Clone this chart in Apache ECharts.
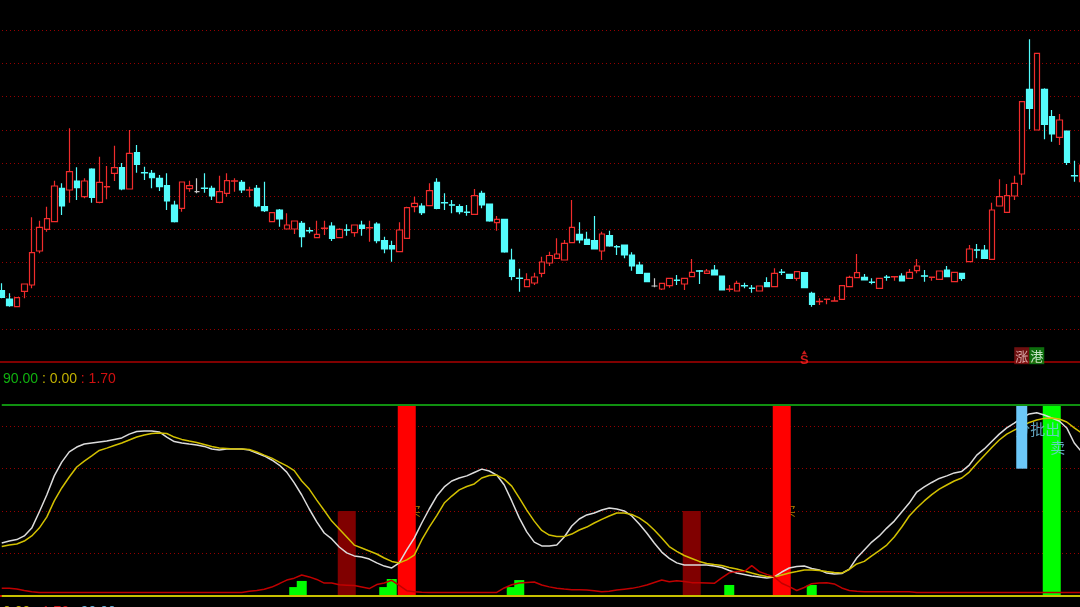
<!DOCTYPE html>
<html><head><meta charset="utf-8">
<script src="https://cdn.jsdelivr.net/npm/echarts@6/dist/echarts.min.js"></script>
<style>html,body{margin:0;padding:0;background:#000;}#c{width:1080px;height:607px;}</style>
</head><body><div id="c"></div>
<script>
// ---------- price candles (one entry per trading day) ----------
const opens = [7.15,6.32,5.55,7.09,7.72,11.12,13.29,14.05,17.39,17.22, 18.12,16.55,19.32,15.99,17.53,18.89,19.45,17.32,20.95,18.97, 18.89,18.39,17.65,15.72,15.39,17.35,17.05,17.41,17.39,15.99, 16.89,18.10,17.99,17.20,17.39,15.55,14.05,15.22,13.32,13.32, 13.89,13.17,12.45,13.37,13.62,12.45,13.24,12.95,13.72,13.43, 13.82,12.15,11.65,11.05,12.39,15.55,15.62,15.65,17.99,15.97, 15.74,15.55,15.01,14.79,16.89,15.82,13.95,14.29,10.22,8.41, 7.55,7.92,8.89,9.92,10.39,10.22,11.95,12.79,12.29,12.15, 11.12,12.65,11.57,11.72,10.72,9.72,8.89,7.62,7.32,7.65, 8.21,7.82,8.55,9.14,8.89,9.22,8.62,7.27,7.12,7.67, 7.41,7.12,7.95,7.55,9.01,8.79,8.39,8.97,6.89,6.05, 6.27,6.10,6.29,7.55,8.45,8.49,8.01,7.39,8.51,8.53, 8.62,8.39,9.15,8.64,8.47,8.29,9.22,8.05,8.89,10.05, 11.24,11.22,10.29,15.62,14.99,16.62,18.82,27.29,23.22,27.29, 24.55,22.49,23.12,18.67,18.05];
const closes = [6.49,5.65,6.45,7.82,10.95,13.49,14.35,17.62,15.62,19.05, 17.45,18.12,16.49,17.99,17.57,19.45,17.32,20.89,19.79,18.93, 18.45,17.55,16.12,14.05,18.02,17.65,17.05,17.37,16.62,17.05, 18.15,18.14,17.22,17.24,15.62,15.15,14.95,14.32,13.72,14.12, 12.55,13.13,12.79,13.41,12.39,13.29,13.20,13.72,13.39,13.47, 12.15,11.32,11.32,13.22,15.45,15.89,14.95,17.15,15.39,15.93, 15.70,15.05,14.97,16.65,15.72,14.12,14.29,11.02,8.57,8.37, 8.25,8.52,10.02,10.67,10.82,11.89,13.49,12.22,11.79,11.32, 12.82,11.62,11.53,10.72,9.62,8.89,8.05,7.62,7.89,8.39, 8.17,8.39,8.99,9.10,9.12,8.72,7.22,7.31,7.89,7.63, 7.37,7.62,7.55,8.89,8.97,8.39,9.05,7.45,5.79,6.09, 6.31,6.14,7.65,8.49,8.95,8.22,7.97,8.39,8.47,8.57, 8.12,8.99,9.62,8.60,8.51,9.12,8.55,8.99,8.39,11.32, 11.20,10.39,15.22,16.55,16.65,17.89,26.05,25.39,30.89,23.79, 22.82,24.22,19.99,18.63,19.72];
const lows = [6.39,5.55,5.50,6.39,7.39,10.89,13.05,14.00,14.72,15.95, 16.22,16.39,15.95,15.90,16.29,18.12,17.20,17.30,18.95,18.22, 17.39,17.12,15.22,13.97,15.05,17.05,16.89,16.95,16.22,15.90, 16.55,17.05,16.92,16.49,15.50,15.02,14.00,13.55,13.30,12.82, 11.49,12.89,12.45,12.72,12.12,12.39,12.65,12.55,12.65,12.05, 11.89,10.89,10.05,11.00,12.35,14.99,14.72,15.60,15.30,15.22, 14.89,14.79,14.65,14.75,15.39,14.05,13.15,10.95,8.19,7.05, 7.50,7.72,8.49,9.62,10.35,10.20,11.90,11.89,11.75,11.30, 10.22,11.55,10.72,10.39,9.15,8.85,8.00,7.49,7.22,7.45, 7.72,7.22,8.50,7.82,8.85,8.70,7.20,7.05,7.10,7.39, 6.95,7.10,7.50,7.50,8.72,8.35,8.15,7.40,5.55,5.72, 5.79,6.07,6.25,7.50,8.40,8.20,7.79,7.35,8.15,8.15, 8.10,8.35,8.89,8.05,8.15,8.25,8.50,8.00,8.15,10.00, 10.39,10.35,10.25,15.60,14.95,16.22,17.72,23.29,23.20,22.29, 22.05,21.72,19.72,18.05,18.00];
const highs = [7.89,6.89,6.50,7.85,14.49,14.15,15.55,18.15,17.89,23.39, 19.49,18.39,19.39,20.55,19.62,21.65,19.92,23.22,21.72,19.55, 19.22,18.72,18.89,16.15,18.05,18.15,18.39,18.89,17.65,18.65, 18.89,18.39,18.22,17.55,17.72,18.05,15.00,15.32,14.89,14.15, 14.12,13.49,14.15,14.15,13.99,13.39,13.79,13.75,14.15,14.15, 13.99,12.55,12.15,13.99,15.55,16.55,15.89,17.89,18.39,16.89, 16.22,15.79,15.72,17.32,17.15,15.85,14.62,14.30,11.35,9.35, 8.89,8.95,10.55,11.05,12.39,12.22,16.22,13.99,13.05,14.62, 13.05,13.15,11.72,11.75,10.99,10.05,8.90,8.39,7.90,8.40, 8.72,8.40,10.32,9.22,9.32,9.72,8.65,7.72,8.15,7.95, 7.72,7.65,8.49,9.39,9.32,8.80,9.10,9.00,7.05,6.39, 6.32,6.55,7.70,8.65,10.82,8.82,8.39,8.40,8.72,8.58, 8.89,9.32,10.32,9.22,8.52,9.15,9.62,9.00,8.90,11.72, 11.82,11.72,15.95,18.29,17.82,18.65,26.10,32.29,30.90,27.39, 25.22,24.82,23.15,20.15,19.75];

// ---------- indicator panel ----------
const kLine = [25.0,25.9,26.6,28.3,32.0,39.6,47.6,56.6,63.1,67.9, 70.2,71.6,72.1,72.6,73.0,73.8,74.5,76.3,77.5,77.8, 77.8,77.3,74.9,72.8,72.1,71.6,71.2,70.5,69.3,68.8, 69.3,69.3,69.3,68.8,67.4,66.0,64.1,61.7,58.4,53.3, 47.6,41.0,34.9,29.7,26.9,23.1,20.3,18.9,18.4,17.4, 15.6,14.1,13.2,15.6,21.7,27.3,34.4,41.0,47.1,51.4, 54.2,55.6,56.6,58.2,59.8,58.9,57.0,52.3,44.8,36.8, 30.2,25.4,23.6,23.6,24.0,27.8,33.0,36.3,38.2,39.1, 40.5,41.5,41.0,40.1,37.7,33.9,29.7,25.0,20.7,17.7, 15.6,14.6,14.6,14.6,14.6,14.1,13.4,12.0,10.8,10.1, 9.4,9.0,8.5,9.0,11.3,13.2,13.9,14.1,13.0,12.3, 10.8,10.4,10.6,12.7,17.9,21.7,25.4,28.3,32.0,35.3, 39.6,43.8,49.0,51.4,53.5,55.4,56.6,58.0,58.7,61.7, 66.4,69.3,72.8,76.3,79.2,81.5,83.9,85.8,86.4,85.3, 83.9,82.5,79.2,72.1,67.9];
const dLine = [23.3,24.0,24.5,25.9,28.3,32.0,37.2,44.8,50.9,56.1, 60.8,63.6,66.0,68.6,69.7,70.9,72.1,73.5,74.9,75.9, 76.6,76.8,76.6,74.9,73.8,73.0,72.3,71.4,70.5,69.7, 69.5,69.3,69.3,69.0,67.9,66.4,65.0,63.1,61.3,59.1, 54.2,50.4,45.2,40.3,35.3,31.6,27.8,24.0,22.6,21.2, 19.8,17.9,16.3,15.6,17.0,19.3,26.4,32.5,37.9,43.8, 47.1,50.0,51.6,52.8,55.6,56.8,57.0,55.1,51.8,46.2, 40.5,35.3,30.9,28.7,28.0,28.0,29.2,31.1,32.5,34.4, 36.1,37.7,39.1,39.1,38.4,36.8,34.4,31.1,27.3,23.3, 21.0,19.1,17.7,16.3,15.3,14.8,14.4,13.4,12.7,11.8, 10.8,9.9,9.2,9.0,9.9,10.8,11.5,12.3,12.3,12.0, 11.5,11.1,10.8,12.5,15.1,16.3,18.9,21.4,24.0,27.8, 32.5,37.7,41.5,44.8,47.8,50.4,52.3,54.2,55.6,58.4, 62.4,66.2,70.0,73.5,76.3,78.2,79.9,81.8,82.9,83.7, 83.9,83.4,82.0,79.2,76.8];
const redLine = [3.6,3.6,3.3,2.6,2.0,1.7,1.7,1.7,1.7,1.7, 1.7,1.7,1.7,1.7,1.7,1.7,1.7,1.7,1.7,1.7, 1.7,1.7,1.7,1.7,1.7,1.7,1.7,1.7,1.7,1.7, 1.7,1.7,1.7,2.2,2.6,3.2,4.2,5.8,7.5,8.4, 9.9,9.0,7.8,6.1,6.1,5.3,5.1,4.9,4.2,3.5, 5.4,6.1,7.4,5.0,2.5,2.0,1.8,1.7,1.7,1.7, 1.7,1.7,1.7,1.7,1.7,1.7,1.7,3.8,5.3,6.1, 6.4,6.6,5.2,4.3,3.7,3.3,3.0,2.9,2.8,2.5, 2.0,2.2,2.8,3.2,3.6,4.3,5.2,6.4,7.5,6.7, 7.2,6.8,6.3,6.2,6.1,6.0,8.5,10.9,11.5,11.5, 14.3,11.5,10.2,9.0,6.0,4.4,2.6,4.0,5.8,6.1, 6.2,5.7,3.8,2.6,2.2,2.0,2.0,2.0,2.0,2.0, 2.0,2.0,1.7,1.7,1.7,1.7,1.7,1.7,1.7,1.7, 1.7,1.7,1.7,1.7,1.7,1.7,1.7,1.7,1.7,1.7, 1.7,1.7,1.7,1.7,1.7];
const upperLevel = 90;
const lowerLevel = 0;
const buyIdx = [54, 104];          // tall red bars
const buyVal = 90;
const watchIdx = [46, 92];         // dark red bars
const watchVal = 40;
const sellIdx = [140];             // tall green bar
const sellVal = 90;
const warnIdx = [136];             // light blue range bar
const warnLow = 60, warnHigh = 90;
const smallIdx = [39, 40, 51, 52, 68, 69, 97, 108];
const smallVal = [4.2, 7.1, 4.2, 8.0, 4.2, 7.5, 5.2, 5.2];
// top panel signal marks
const sIdx = 107, sVal = 1.0;
const zhangIdx = 136, gangIdx = 138, markVal = 0.65;
// texts in lower panel
const batchIdx = 136, batchVal = 78.7, batchVal2 = 70.0;

const N = opens.length;
const cats = opens.map((_, i) => 'D' + (i + 1));
function sparse(idx, vals) {
  const a = new Array(N).fill(null);
  idx.forEach((k, j) => { a[k] = Array.isArray(vals) ? vals[j] : vals; });
  return a;
}
const candleData = opens.map((o, i) => {
  const item = { value: [o, closes[i], lows[i], highs[i]] };
  if (o === closes[i]) item.itemStyle = { color: '#c8c8c8', color0: '#c8c8c8', borderColor: '#c8c8c8', borderColor0: '#c8c8c8' };
  return item;
});

const RED = '#f02c2c', CYAN = '#54fcfc';
const dotted = { type: [1, 3], color: '#960000', width: 1 };
const hiddenX = (g) => ({ gridIndex: g, type: 'category', data: cats, show: false });
const noAxis = { axisLine: { show: false }, axisTick: { show: false }, axisLabel: { show: false } };
const font = 'Liberation Sans, Arial, sans-serif';

const chart = echarts.init(document.getElementById('c'));
chart.setOption({
  backgroundColor: '#000',
  animation: false,
  title: [
    { left: -2, top: 367, text: `{g|${upperLevel.toFixed(2)}}{y| : ${lowerLevel.toFixed(2)}}{r| : ${redLine[N-1].toFixed(2)}}`,
      textStyle: { fontSize: 14, fontWeight: 'normal', fontFamily: font,
        rich: { g: { color: '#10b010', fontSize: 14, fontFamily: font }, y: { color: '#c0b000', fontSize: 14, fontFamily: font }, r: { color: '#d01010', fontSize: 14, fontFamily: font } } } },
    { left: -2, top: 600, text: `{y|${lowerLevel.toFixed(2)}}{r| : ${redLine[N-1].toFixed(2)}}{b| : ${upperLevel.toFixed(2)}}`,
      textStyle: { fontSize: 14, fontWeight: 'normal', fontFamily: font,
        rich: { y: { color: '#c0b000', fontSize: 14, fontFamily: font }, r: { color: '#d01010', fontSize: 14, fontFamily: font }, b: { color: '#60b0d8', fontSize: 14, fontFamily: font } } } }
  ],
  grid: [
    { left: -2, right: -5.5, top: -3, height: 365.2, outerBoundsMode: 'none', containLabel: false },
    { left: -2, right: -5.5, top: 400.78, height: 195.22, outerBoundsMode: 'none', containLabel: false }
  ],
  xAxis: [
    { gridIndex: 0, type: 'category', data: cats, offset: 3, axisLine: { show: true, lineStyle: { color: '#800000', width: 2 } }, axisTick: { show: false }, axisLabel: { show: false }, splitLine: { show: false } },
    { gridIndex: 1, type: 'category', data: cats, offset: 3.5, axisLine: { show: true, lineStyle: { color: '#d00000', width: 2 } }, axisTick: { show: false }, axisLabel: { show: false }, splitLine: { show: false } },
    hiddenX(1), hiddenX(1), hiddenX(1)
  ],
  yAxis: [
    Object.assign({ gridIndex: 0, type: 'value', min: 0, max: 36.52, interval: 3.32, splitLine: { show: true, showMinLine: false, showMaxLine: false, lineStyle: dotted } }, noAxis),
    Object.assign({ gridIndex: 1, type: 'value', min: 0, max: 92, interval: 20, splitLine: { show: true, showMinLine: false, showMaxLine: false, lineStyle: dotted } }, noAxis)
  ],
  series: [
    { type: 'candlestick', xAxisIndex: 0, yAxisIndex: 0, barWidth: 6, data: candleData,
      itemStyle: { color: '#000', color0: CYAN, borderColor: RED, borderColor0: CYAN, borderWidth: 1.2 } },
    { type: 'scatter', xAxisIndex: 0, yAxisIndex: 0, symbol: 'triangle', symbolSize: [5, 4], itemStyle: { color: '#ff2020' },
      data: [[sIdx, sVal]],
      label: { show: true, position: 'bottom', distance: 0, formatter: 'S', color: '#ff2020', fontSize: 13, fontWeight: 'bold', fontFamily: font } },
    { type: 'scatter', xAxisIndex: 0, yAxisIndex: 0, symbolSize: 0,
      data: [
        { value: [zhangIdx, markVal], label: { formatter: '涨', backgroundColor: '#8a1414', color: '#f0c8c8' } },
        { value: [gangIdx, markVal], label: { formatter: '港', backgroundColor: '#108a10', color: '#f0fff0' } }
      ],
      label: { show: true, position: 'inside', fontSize: 13, padding: [2, 1, 2, 1], fontFamily: 'Noto Sans CJK SC' } },
    // indicator curves
    { type: 'line', xAxisIndex: 1, yAxisIndex: 1, data: kLine, symbol: 'none', lineStyle: { color: '#dcdcdc', width: 1.5 } },
    { type: 'line', xAxisIndex: 1, yAxisIndex: 1, data: dLine, symbol: 'none', lineStyle: { color: '#d2c000', width: 1.5 } },
    { type: 'line', xAxisIndex: 1, yAxisIndex: 1, data: redLine, symbol: 'none', lineStyle: { color: '#c00000', width: 1.5 } },
    // orange small glyphs hidden behind buy bars
    { type: 'scatter', z: 1, xAxisIndex: 1, yAxisIndex: 1, symbolSize: 0, data: buyIdx.map(k => [k, watchVal]),
      label: { show: true, position: 'inside', offset: [8, 0], formatter: '买', color: '#e0a000', fontSize: 12, fontFamily: 'Noto Sans CJK SC' } },
    // signal bars
    { type: 'bar', xAxisIndex: 2, yAxisIndex: 1, stack: 'sig', barWidth: 18, data: sparse(buyIdx, buyVal), itemStyle: { color: '#ff0000' } },
    { type: 'bar', xAxisIndex: 2, yAxisIndex: 1, stack: 'sig', barWidth: 18, data: sparse(watchIdx, watchVal), itemStyle: { color: '#800000' } },
    { type: 'bar', xAxisIndex: 2, yAxisIndex: 1, stack: 'sig', barWidth: 18, data: sparse(sellIdx, sellVal), itemStyle: { color: '#00ff00' } },
    { type: 'bar', xAxisIndex: 4, yAxisIndex: 1, barWidth: 10, data: sparse(smallIdx, smallVal), itemStyle: { color: '#00ff00' } },
    { type: 'scatter', z: 3, xAxisIndex: 1, yAxisIndex: 1, symbolSize: 0,
      data: [
        { value: [batchIdx, batchVal], label: { formatter: '分批出', offset: [16, 0] } },
        { value: [batchIdx, batchVal2], label: { formatter: '卖', offset: [36, 0] } }
      ],
      label: { show: true, position: 'inside', color: '#78c8e8', fontSize: 15, fontFamily: 'Noto Sans CJK SC' } },
    { type: 'bar', z: 4, xAxisIndex: 3, yAxisIndex: 1, stack: 'warn', barWidth: 11, data: sparse(warnIdx, warnLow), itemStyle: { color: 'transparent' } },
    { type: 'bar', z: 4, xAxisIndex: 3, yAxisIndex: 1, stack: 'warn', barWidth: 11, data: sparse(warnIdx, warnHigh - warnLow), itemStyle: { color: '#6cc8f8' } },
    // level lines
    { type: 'line', z: 5, xAxisIndex: 1, yAxisIndex: 1, data: new Array(N).fill(upperLevel), symbol: 'none', lineStyle: { color: '#109010', width: 2 } },
    { type: 'line', z: 5, xAxisIndex: 1, yAxisIndex: 1, data: new Array(N).fill(lowerLevel), symbol: 'none', lineStyle: { color: '#c8c000', width: 2 } }
  ]
});
</script>
</body></html>
